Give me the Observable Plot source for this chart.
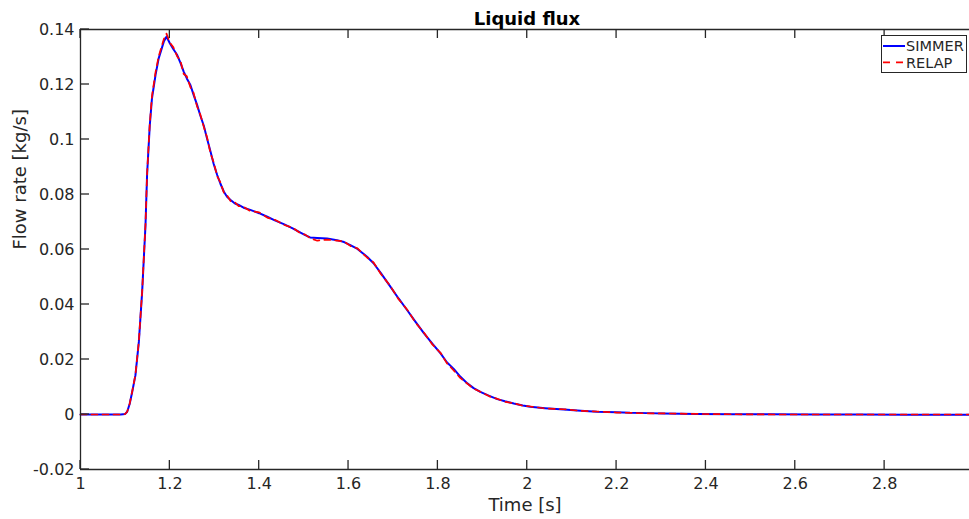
<!DOCTYPE html>
<html>
<head>
<meta charset="utf-8">
<script src="https://cdn.jsdelivr.net/npm/d3@7"></script>
<script src="https://cdn.jsdelivr.net/npm/@observablehq/plot@0.6"></script>
<style>
  html, body { margin: 0; padding: 0; background: #fff; overflow: hidden; }
  #wrap { position: relative; width: 969px; height: 519px; font-family: "DejaVu Sans", sans-serif; }
  #legend { position: absolute; left: 881px; top: 35px; width: 84px; height: 36px; border: 1px solid #262626; background: #fff; }
</style>
</head>
<body>
<div id="wrap"></div>
<script>
const title = "Liquid flux";
const xLabel = "Time [s]";
const yLabel = "Flow rate [kg/s]";
const seriesNames = ["SIMMER", "RELAP"];
const xTicks = [1, 1.2, 1.4, 1.6, 1.8, 2, 2.2, 2.4, 2.6, 2.8];
const yTicks = [-0.02, 0, 0.02, 0.04, 0.06, 0.08, 0.1, 0.12, 0.14];

const time = [1.0, 1.09, 1.1, 1.1045, 1.11, 1.1157, 1.123, 1.1306, 1.138, 1.1455, 1.149, 1.155, 1.16, 1.168, 1.175, 1.1865, 1.1925, 1.2, 1.208, 1.2165, 1.224, 1.231, 1.238, 1.246, 1.253, 1.261, 1.268, 1.276, 1.283, 1.291, 1.298, 1.306, 1.313, 1.321, 1.328, 1.336, 1.345, 1.354, 1.365, 1.38, 1.40, 1.418, 1.435, 1.455, 1.475, 1.4925, 1.503, 1.514, 1.53, 1.552, 1.574, 1.59, 1.604, 1.62, 1.642, 1.656, 1.672, 1.694, 1.712, 1.731, 1.75, 1.769, 1.788, 1.806, 1.82, 1.836, 1.85, 1.866, 1.88, 1.895, 1.915, 1.933, 1.95, 1.97, 1.99, 2.007, 2.04, 2.082, 2.12, 2.156, 2.2, 2.23, 2.27, 2.305, 2.38, 2.455, 2.55, 2.65, 2.75, 2.85, 2.99];

const simmer = [0, 0, 0.0002, 0.001, 0.0038, 0.0082, 0.0143, 0.0264, 0.0446, 0.0689, 0.087, 0.105, 0.115, 0.1235, 0.1295, 0.1356, 0.1374, 0.135, 0.1328, 0.1307, 0.1278, 0.1247, 0.1222, 0.1198, 0.1163, 0.1126, 0.1088, 0.105, 0.1005, 0.0956, 0.0912, 0.0871, 0.084, 0.081, 0.0792, 0.078, 0.0768, 0.0762, 0.0752, 0.0744, 0.0732, 0.0719, 0.0706, 0.0692, 0.0677, 0.0661, 0.0652, 0.0644, 0.0642, 0.064, 0.0634, 0.0627, 0.0616, 0.0602, 0.0573, 0.055, 0.0515, 0.0464, 0.0422, 0.038, 0.0337, 0.0295, 0.0257, 0.0222, 0.019, 0.0165, 0.0138, 0.0113, 0.0096, 0.0082, 0.0068, 0.0056, 0.0048, 0.004, 0.0033, 0.0028, 0.0023, 0.0018, 0.0014, 0.001, 0.0008, 0.0006, 0.0005, 0.0004, 0.0002, 0.0001, 0.0001, 0.0, 0.0, -0.0001, -0.0001];

const relap = [0, 0, 0.0002, 0.001, 0.0039, 0.0083, 0.0145, 0.0266, 0.0448, 0.0692, 0.0873, 0.1055, 0.1158, 0.1245, 0.1302, 0.1365, 0.1385, 0.1352, 0.1335, 0.1302, 0.1285, 0.1238, 0.123, 0.119, 0.117, 0.112, 0.1092, 0.1046, 0.101, 0.095, 0.0918, 0.0866, 0.0845, 0.0806, 0.0797, 0.0776, 0.0772, 0.0758, 0.0755, 0.074, 0.0735, 0.0716, 0.0708, 0.069, 0.0679, 0.0659, 0.0654, 0.0641, 0.0632, 0.0636, 0.0632, 0.0629, 0.0613, 0.0604, 0.057, 0.0553, 0.0512, 0.0466, 0.0419, 0.0382, 0.0334, 0.0297, 0.0254, 0.0224, 0.0187, 0.0159, 0.0133, 0.0112, 0.0094, 0.0083, 0.0066, 0.0057, 0.0046, 0.0041, 0.0032, 0.0029, 0.0022, 0.0019, 0.0013, 0.0011, 0.0007, 0.0006, 0.0004, 0.0004, 0.0002, 0.0001, 0, 0, 0, 0, 0];

const dataS = time.map((t, i) => ({t, v: simmer[i]}));
const dataR = time.map((t, i) => ({t, v: relap[i]}));
const fmt = d => String(+(+d).toFixed(2));
const axisColor = "#262626";

const W = 969, H = 519, MT = 29, MB = 50, ML = 80, MR = 0;
const TICK = 9;

const chart = Plot.plot({
  width: W,
  height: H,
  marginTop: MT,
  marginBottom: MB,
  marginLeft: ML,
  marginRight: MR,
  style: {fontFamily: "DejaVu Sans, sans-serif", fontSize: "16px", color: axisColor, background: "#fff"},
  x: {domain: [1, 2.99]},
  y: {domain: [-0.02, 0.14]},
  marks: [
    Plot.line(dataS, {x: "t", y: "v", stroke: "#0000ff", strokeWidth: 2}),
    Plot.line(dataR, {x: "t", y: "v", stroke: "#ff0000", strokeWidth: 1.7, strokeDasharray: "6,5"}),
    Plot.ruleY([-0.02, 0.14], {stroke: axisColor, strokeWidth: 1.3}),
    Plot.ruleX([1], {stroke: axisColor, strokeWidth: 1.3}),
    Plot.axisX(xTicks, {anchor: "bottom", tickSize: 0, tickPadding: 8, tickFormat: fmt, label: null, fill: axisColor, fontSize: 16}),
    Plot.axisY(yTicks, {anchor: "left", tickSize: 0, tickPadding: 6, tickFormat: fmt, label: null, fill: axisColor, fontSize: 16}),
    Plot.text([title], {frameAnchor: "top", dx: 2, dy: -17, fontWeight: "bold", fontSize: 18, fill: "#000"}),
    Plot.text([xLabel], {frameAnchor: "bottom", dy: 41, fontSize: 18, fill: axisColor}),
    Plot.text([yLabel], {frameAnchor: "left", dx: -60, rotate: -90, fontSize: 18, fill: axisColor})
  ]
});

const wrap = document.getElementById("wrap");
wrap.appendChild(chart);

// inward ticks (MATLAB style), positioned through Plot's own scales
const sx = chart.scale("x"), sy = chart.scale("y");
const svgSel = d3.select(chart);
const g = svgSel.append("g").attr("stroke", axisColor).attr("stroke-width", 1.3);
const yBottom = sy.apply(-0.02), yTop = sy.apply(0.14), xLeft = sx.apply(1);
xTicks.forEach(v => {
  const x = sx.apply(v);
  g.append("line").attr("x1", x).attr("x2", x).attr("y1", yBottom).attr("y2", yBottom - TICK);
  g.append("line").attr("x1", x).attr("x2", x).attr("y1", yTop).attr("y2", yTop + TICK);
});
yTicks.forEach(v => {
  const y = sy.apply(v);
  g.append("line").attr("x1", xLeft).attr("x2", xLeft + TICK).attr("y1", y).attr("y2", y);
});

const legend = document.createElement("div");
legend.id = "legend";
const ns = "http://www.w3.org/2000/svg";
const lsvg = document.createElementNS(ns, "svg");
lsvg.setAttribute("width", "84");
lsvg.setAttribute("height", "36");
const legendStyles = [
  {color: "#0000ff", dash: null, width: 2},
  {color: "#ff0000", dash: "7,6", width: 1.7}
];
seriesNames.forEach((name, i) => {
  const y = 10 + i * 16.3;
  const line = document.createElementNS(ns, "line");
  line.setAttribute("x1", "1");
  line.setAttribute("x2", "23");
  line.setAttribute("y1", y);
  line.setAttribute("y2", y);
  line.setAttribute("stroke", legendStyles[i].color);
  line.setAttribute("stroke-width", legendStyles[i].width);
  if (legendStyles[i].dash) line.setAttribute("stroke-dasharray", legendStyles[i].dash);
  lsvg.appendChild(line);
  const text = document.createElementNS(ns, "text");
  text.setAttribute("x", "24");
  text.setAttribute("y", y + 5.3);
  text.setAttribute("font-family", "DejaVu Sans, sans-serif");
  text.setAttribute("font-size", "14.5");
  text.setAttribute("fill", "#262626");
  text.textContent = name;
  lsvg.appendChild(text);
});
legend.appendChild(lsvg);
wrap.appendChild(legend);
</script>
</body>
</html>
